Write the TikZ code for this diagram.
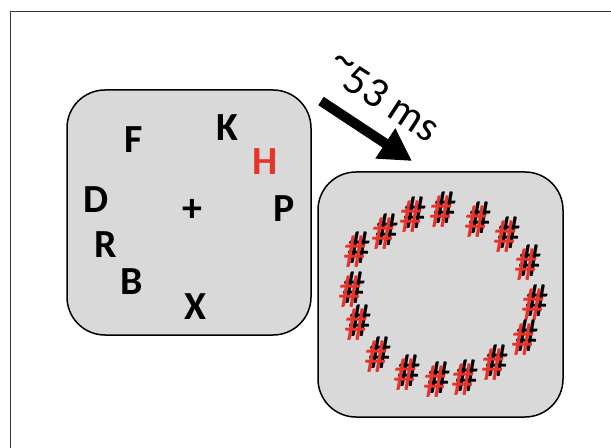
\documentclass[tikz,border=0pt]{standalone}
\usepackage{fontspec}
\setmainfont{Carlito}
\usetikzlibrary{arrows.meta}
\definecolor{boxgray}{HTML}{D9D9D9}
\definecolor{hred}{HTML}{E8332A}
\definecolor{framegray}{HTML}{3A3A3A}
\tikzset{
  panel/.style={draw=black, line width=1.5bp, fill=boxgray, rounded corners=38bp},
  letter/.style={inner sep=0pt, font=\fontsize{40}{40}\selectfont\bfseries},
  hashb/.style={inner sep=0pt, font=\fontsize{47}{47}\selectfont, text=black},
  hashr/.style={inner sep=0pt, font=\fontsize{47}{47}\selectfont, text=hred},
}
\newcommand{\hashpair}[3]{%
  \node[hashb] (hb#3) at (#1+2,#2-2) {\#};
  \node[hashr] (hr#3) at (#1-2,#2+2) {\#};
}
\begin{document}
\begin{tikzpicture}[x=1bp,y=-1bp]
\useasboundingbox (0,0) rectangle (611,448);
\draw[framegray, line width=1.5bp] (10.5,449) -- (10.5,11.5) -- (612,11.5);
% panels
\draw[panel] (67,90) rectangle (311,335);
\draw[panel] (318,172) rectangle (563,417);
% letters
\node[letter] (F) at (134,140) {F};
\node[letter] (K) at (227,128) {K};
\node[letter, text=hred] (H) at (265,162) {H};
\node[letter] (D) at (96,200) {D};
\node[letter] (plus) at (192,210) {+};
\node[letter] (P) at (284,209) {P};
\node[letter] (R) at (106,245) {R};
\node[letter] (B) at (132,282) {B};
\node[letter] (X) at (195,307) {X};
% arrow
\coordinate (as) at (321,101);
\coordinate (ae) at (412,161);
\draw[line width=10bp, -{Triangle[length=32bp,width=34bp]}] (as) -- (ae);
\node[inner sep=0pt, rotate=-33, font=\fontsize{43}{43}\selectfont] (lbl) at (383,98) {\raisebox{0.28em}{\textasciitilde}53 ms};
% hashes
\hashpair{357}{250}{1}
\hashpair{385}{232}{2}
\hashpair{413}{215}{3}
\hashpair{443}{210}{4}
\hashpair{478}{220}{5}
\hashpair{507}{235}{6}
\hashpair{528}{263}{7}
\hashpair{535}{303}{8}
\hashpair{525}{338}{9}
\hashpair{495}{363}{10}
\hashpair{465}{378}{11}
\hashpair{437}{380}{12}
\hashpair{407}{373}{13}
\hashpair{378}{355}{14}
\hashpair{358}{323}{15}
\hashpair{352}{290}{16}
\end{tikzpicture}
\end{document}
